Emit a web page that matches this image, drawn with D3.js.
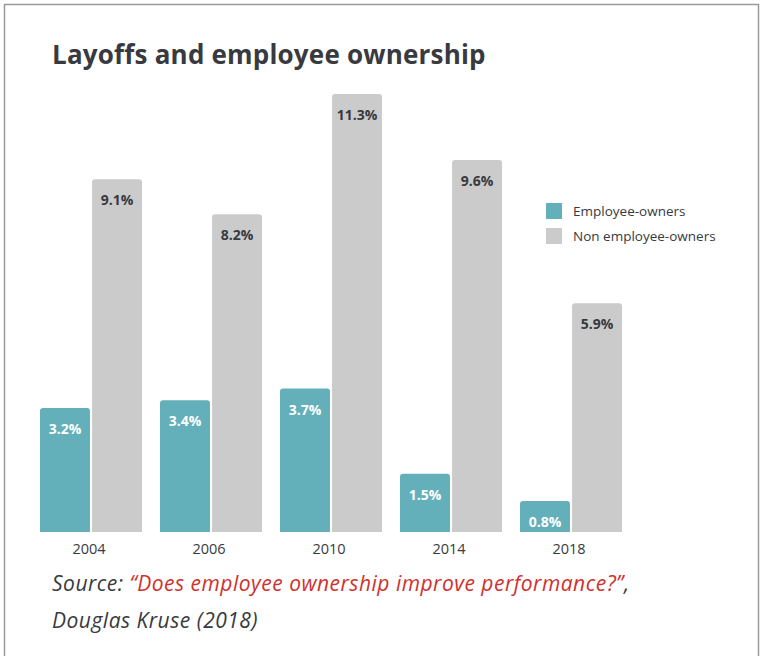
<!DOCTYPE html>
<html>
<head>
<meta charset="utf-8">
<script src="https://cdn.jsdelivr.net/npm/d3@7"></script>
<style>
  body { margin: 0; background: #fff; }
  text { font-family: "Open Sans", "Noto Sans", sans-serif; }
</style>
</head>
<body>
<div id="chart"></div>
<script>

var years = ["2004", "2006", "2010", "2014", "2018"];
var seriesNames = ["Employee-owners", "Non employee-owners"];
var employeeOwners = [3.2, 3.4, 3.7, 1.5, 0.8];
var nonEmployeeOwners = [9.1, 8.2, 11.3, 9.6, 5.9];

var width = 760,
    height = 656;

var colors = ["#63afba", "#cbcbcb"];

var svg = d3.select("#chart").append("svg")
    .attr("width", width)
    .attr("height", height);

// frame round the card
svg.append("path")
    .attr("d", "M4.5,656 V4.5 H758.5 V656")
    .attr("fill", "none")
    .attr("stroke", "#9a9a9a")
    .attr("stroke-width", 1.5);

svg.append("text")
    .attr("x", 52)
    .attr("y", 64)
    .attr("fill", "#383a40")
    .attr("font-size", 26)
    .attr("font-weight", 700)
    .attr("letter-spacing", 0.2)
    .text("Layoffs and employee ownership");

// scales
var x0 = d3.scaleBand()
    .domain(years)
    .range([40, 640])
    .paddingInner(0)
    .paddingOuter(0);

var x1 = d3.scaleBand()
    .domain([0, 1])
    .range([0, 102])
    .paddingInner(0.04);

var y = d3.scaleLinear()
    .domain([0, 11.3])
    .range([532, 94]);

var rows = years.map(function(yr, i) {
  return { year: yr, values: [employeeOwners[i], nonEmployeeOwners[i]] };
});

var group = svg.selectAll(".year")
    .data(rows)
  .enter().append("g")
    .attr("class", "year")
    .attr("transform", function(d) { return "translate(" + x0(d.year) + ",0)"; });

var bar = group.selectAll(".bar")
    .data(function(d) { return d.values.map(function(v, k) { return { k: k, v: v }; }); })
  .enter().append("g")
    .attr("class", "bar");

// bar with rounded top corners only
bar.append("path")
    .attr("fill", function(d) { return colors[d.k]; })
    .attr("d", function(d) {
      var x = x1(d.k), w = x1.bandwidth(), t = y(d.v), b = y(0), r = 3;
      return "M" + x + "," + b + "V" + (t + r) + "Q" + x + "," + t + " " + (x + r) + "," + t +
             "H" + (x + w - r) + "Q" + (x + w) + "," + t + " " + (x + w) + "," + (t + r) + "V" + b + "Z";
    });

bar.append("text")
    .attr("x", function(d) { return x1(d.k) + x1.bandwidth() / 2; })
    .attr("y", function(d) { return y(d.v) + 26; })
    .attr("text-anchor", "middle")
    .attr("font-size", 14)
    .attr("font-weight", 700)
    .attr("fill", function(d) { return d.k === 0 ? "#ffffff" : "#383a40"; })
    .text(function(d) { return d.v.toFixed(1) + "%"; });

// year labels
var xAxis = d3.axisBottom(x0).tickSize(0).tickPadding(12);
var axisG = svg.append("g")
    .attr("transform", "translate(0," + y(0) + ")")
    .call(xAxis);
axisG.select(".domain").remove();
axisG.selectAll(".tick")
    .attr("transform", function(d) { return "translate(" + (x0(d) + 49) + ",0)"; });
axisG.selectAll("text")
    .attr("font-size", 14.5)
    .attr("fill", "#383a40")
    .attr("font-family", "'Open Sans', 'Noto Sans', sans-serif");

// legend
var legend = svg.selectAll(".legend")
    .data(seriesNames)
  .enter().append("g")
    .attr("class", "legend")
    .attr("transform", function(d, i) { return "translate(546," + (203 + i * 25) + ")"; });

legend.append("rect")
    .attr("width", 16)
    .attr("height", 16)
    .attr("fill", function(d, i) { return colors[i]; });

legend.append("text")
    .attr("x", 27)
    .attr("y", 13)
    .attr("font-size", 13.5)
    .attr("fill", "#383a40")
    .text(function(d) { return d; });

// source note
var src = svg.append("text")
    .attr("x", 52)
    .attr("y", 591)
    .attr("font-size", 21)
    .attr("font-style", "italic")
    .attr("letter-spacing", 0.5)
    .attr("fill", "#383a40");
src.append("tspan").text("Source: ");
src.append("tspan").attr("fill", "#d0312d").text("\u201cDoes employee ownership improve performance?\u201d");
src.append("tspan").text(",");

svg.append("text")
    .attr("x", 52)
    .attr("y", 628)
    .attr("font-size", 21)
    .attr("font-style", "italic")
    .attr("letter-spacing", 0.5)
    .attr("fill", "#383a40")
    .text("Douglas Kruse (2018)");

</script>
</body>
</html>
